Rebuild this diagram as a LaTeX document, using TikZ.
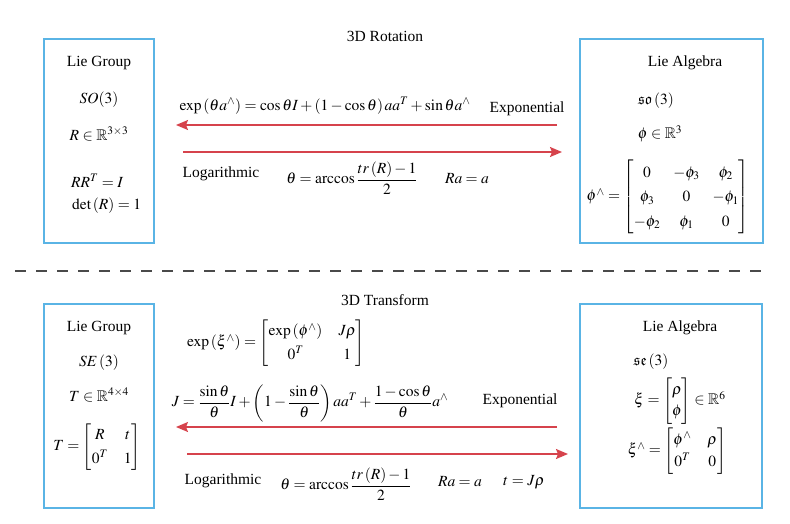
\documentclass[tikz,border=0pt]{standalone}
\usepackage{amsmath,amssymb}
\usepackage{mathptmx}
\usepackage{fontspec}
\setmainfont{Liberation Serif}
\usetikzlibrary{arrows.meta}
\definecolor{boxblue}{HTML}{5AB4E5}
\definecolor{arrred}{HTML}{D6434C}
\definecolor{dashgray}{HTML}{4A4A4A}
\renewcommand{\arraystretch}{1.3}
\setlength{\arraycolsep}{8pt}
\tikzset{
  txt/.style={inner sep=0pt, font=\fontsize{15.5}{18}\selectfont},
  liebox/.style={draw=boxblue, line width=1.5pt, inner sep=0pt},
  redarrow/.style={draw=arrred, line width=1.5pt, -{Stealth[length=12pt,width=10pt,inset=2pt]}},
  sepline/.style={draw=dashgray, line width=1.8pt, dash pattern=on 10.7pt off 10.3pt}
}
\begin{document}
\begin{tikzpicture}[x=1pt,y=-1pt]
\useasboundingbox (0,0) rectangle (790,523);
% ---------- 3D Rotation ----------
\node[txt] (t1) at (385,36) {3D Rotation};
\node[liebox, minimum width=110pt, minimum height=204pt] (lg1) at (99,141) {};
\node[liebox, minimum width=183pt, minimum height=204pt] (la1) at (671.5,141) {};
\node[txt] (lg1a) at (99,63) {Lie Group};
\node[txt] (lg1b) at (99,100) {$SO(3)$};
\node[txt] (lg1c) at (99,134) {$R\in\mathbb{R}^{3\times 3}$};
\node[txt, anchor=west] (lg1d) at (71,181) {$RR^{T}=I$};
\node[txt, anchor=west] (lg1e) at (72,206) {$\det\left(R\right)=1$};
\node[txt] (la1a) at (685,63) {Lie Algebra};
\node[txt] (la1b) at (656,101) {$\mathfrak{so}\left(3\right)$};
\node[txt] (la1c) at (660,134) {$\phi\in\mathbb{R}^{3}$};
\node[txt] (la1d) at (668,197) {\renewcommand{\arraystretch}{1.35}\setlength{\arraycolsep}{6.5pt}$\phi^{\wedge}=\begin{bmatrix}0 & -\phi_3 & \phi_2\\ \phi_3 & 0 & -\phi_1\\ -\phi_2 & \phi_1 & 0\end{bmatrix}$};
\node[txt] (e1) at (325,106) {$\exp\left(\theta a^{\wedge}\right)=\cos\theta I+\left(1-\cos\theta\right)aa^{T}+\sin\theta a^{\wedge}$};
\node[txt] (e1l) at (527,109) {Exponential};
\node[txt] (l1l) at (221,174) {Logarithmic};
\node[txt] (l1a) at (352,178) {$\displaystyle\theta=\arccos\frac{tr\left(R\right)-1}{2}$};
\node[txt] (l1b) at (467,179) {$Ra=a$};
\coordinate (a1s) at (557,125);
\coordinate (a1e) at (176,125);
\coordinate (b1s) at (183,152);
\coordinate (b1e) at (562,152);
\draw[redarrow] (a1s) -- (a1e);
\draw[redarrow] (b1s) -- (b1e);
% ---------- separator ----------
\coordinate (sepL) at (15,271);
\coordinate (sepR) at (770,271);
\draw[sepline] (sepL) -- (sepR);
% ---------- 3D Transform ----------
\node[txt] (t2) at (385,300) {3D Transform};
\node[liebox, minimum width=110pt, minimum height=204pt] (lg2) at (99,406) {};
\node[liebox, minimum width=182pt, minimum height=204pt] (la2) at (671,406) {};
\node[txt] (lg2a) at (99,328) {Lie Group};
\node[txt] (lg2b) at (99,363) {$SE\left(3\right)$};
\node[txt] (lg2c) at (99,395) {$T\in\mathbb{R}^{4\times 4}$};
\node[txt] (lg2d) at (97,447) {$T=\begin{bmatrix}R & t\\ 0^{T} & 1\end{bmatrix}$};
\node[txt] (la2a) at (680,328) {Lie Algebra};
\node[txt] (la2b) at (651,362) {$\mathfrak{se}\left(3\right)$};
\node[txt] (la2c) at (680,401) {\renewcommand{\arraystretch}{1.15}$\xi=\begin{bmatrix}\rho\\ \phi\end{bmatrix}\in\mathbb{R}^{6}$};
\node[txt] (la2d) at (677,451) {\renewcommand{\arraystretch}{1.2}$\xi^{\wedge}=\begin{bmatrix}\phi^{\wedge} & \rho\\ 0^{T} & 0\end{bmatrix}$};
\node[txt] (e2a) at (276,343) {$\exp\left(\xi^{\wedge}\right)=\begin{bmatrix}\exp\left(\phi^{\wedge}\right) & J\rho\\ 0^{T} & 1\end{bmatrix}$};
\node[txt] (e2b) at (310,403) {$\displaystyle J=\frac{\sin\theta}{\theta}I+\left(1-\frac{\sin\theta}{\theta}\right)aa^{T}+\frac{1-\cos\theta}{\theta}a^{\wedge}$};
\node[txt] (e2l) at (520,401) {Exponential};
\node[txt] (l2l) at (223,481) {Logarithmic};
\node[txt] (l2a) at (346,484) {$\displaystyle\theta=\arccos\frac{tr\left(R\right)-1}{2}$};
\node[txt] (l2b) at (460,482) {$Ra=a$};
\node[txt] (l2c) at (524,482) {$t=J\rho$};
\coordinate (a2s) at (557,427);
\coordinate (a2e) at (176,427);
\coordinate (b2s) at (187,454);
\coordinate (b2e) at (568,454);
\draw[redarrow] (a2s) -- (a2e);
\draw[redarrow] (b2s) -- (b2e);
\end{tikzpicture}
\end{document}
